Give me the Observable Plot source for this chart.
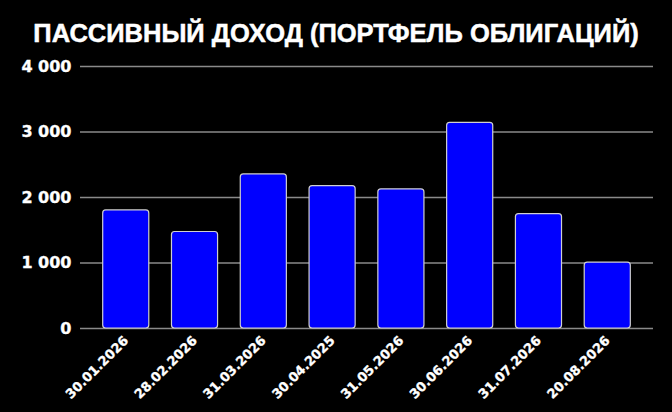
<!DOCTYPE html>
<html>
<head>
<meta charset="utf-8">
<script src="https://cdn.jsdelivr.net/npm/d3@7"></script>
<script src="https://cdn.jsdelivr.net/npm/@observablehq/plot@0.6"></script>
<style>
  html, body { margin: 0; padding: 0; background: #000; }
  #title {
    width: 672px; height: 50px; line-height: 50px; text-align: center;
    color: #fff; font-family: "Liberation Sans", Arial, sans-serif; font-weight: bold;
    font-size: 25.5px; padding-top: 8px; box-sizing: border-box; white-space: nowrap;
    -webkit-text-stroke: 0.5px #fff;
  }
  #chart svg text { stroke: #fff; stroke-width: 0.35px; }
</style>
</head>
<body>
<div id="title">ПАССИВНЫЙ ДОХОД (ПОРТФЕЛЬ ОБЛИГАЦИЙ)</div>
<div id="chart"></div>
<script>
const dates = ["30.01.2026", "28.02.2026", "31.03.2026", "30.04.2025", "31.05.2026", "30.06.2026", "31.07.2026", "20.08.2026"];
const income = [1803, 1473, 2352, 2175, 2125, 3140, 1747, 1006];
const yTicks = [0, 1000, 2000, 3000, 4000];
const yTickLabels = ["0", "1 000", "2 000", "3 000", "4 000"];

const data = dates.map((d, i) => ({date: d, value: income[i]}));

const chart = Plot.plot({
  width: 672,
  height: 362,
  marginTop: 16,
  marginBottom: 84,
  marginLeft: 80,
  marginRight: 19,
  style: {background: "#000", color: "#fff", fontFamily: "DejaVu Sans, sans-serif", fontWeight: "bold", fontSize: "16px"},
  x: {domain: dates, padding: 0.33, round: false, label: null},
  y: {domain: [0, 4000], label: null},
  marks: [
    Plot.ruleY(yTicks, {stroke: "#8a8a8a", strokeWidth: 1.5}),
    Plot.barY(data, {x: "date", y: "value", fill: "#0000ff", stroke: "#d0d0d0", strokeWidth: 1.2, rx: 3}),
    Plot.axisY({ticks: yTicks, tickFormat: (d) => yTickLabels[yTicks.indexOf(d)], tickSize: 0, tickPadding: 9, fontSize: 16, fontWeight: "bold", fill: "#fff"}),
    Plot.axisX({tickSize: 0, tickPadding: 10, tickRotate: -45, fontSize: 13, fontWeight: "bold", fill: "#fff"})
  ]
});
document.getElementById("chart").appendChild(chart);
</script>
</body>
</html>
